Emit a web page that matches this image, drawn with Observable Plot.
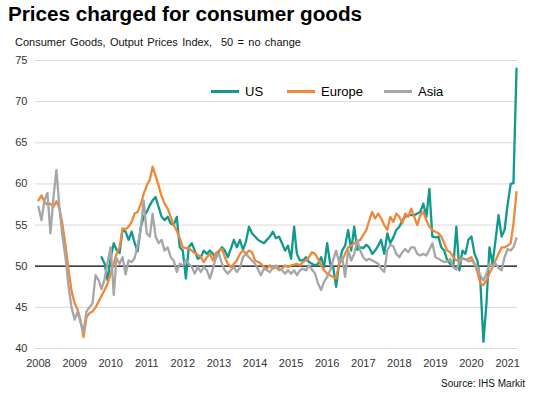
<!DOCTYPE html>
<html><head><meta charset="utf-8">
<script src="https://cdn.jsdelivr.net/npm/d3@7"></script>
<script src="https://cdn.jsdelivr.net/npm/@observablehq/plot@0.6"></script>
<style>
html,body{margin:0;padding:0;background:#fff;}
#wrap{position:relative;width:534px;height:394px;font-family:"Liberation Sans",Arial,sans-serif;color:#000;overflow:hidden;background:#fff}
#title{position:absolute;left:8px;top:2px;font-size:20.7px;font-weight:bold;white-space:nowrap}
#sub{position:absolute;left:15px;top:36px;font-size:11px;white-space:pre;color:#111;word-spacing:1.3px}
#chart{position:absolute;left:0;top:48px}
.item{position:absolute;top:83px;height:16px;display:flex;align-items:center;white-space:nowrap;font-size:13px}
.sw{display:inline-block;width:28px;height:3px;margin-right:6px}
#source{position:absolute;right:9px;top:378px;font-size:10px;color:#111}
</style></head>
<body>
<div id="wrap">
  <div id="title"></div>
  <div id="sub"></div>
  <div id="chart"></div>
  <div id="legend"></div>
  <div id="source"></div>
</div>
<script>
const titleText = "Prices charged for consumer goods";
const subtitleText = "Consumer Goods, Output Prices Index,  50 = no change";
const sourceText = "Source: IHS Markit";

const seriesNames = ["US", "Europe", "Asia"];
const seriesColors = ["#10998c", "#f0883a", "#a6a6a6"];
const legendLeft = [211, 287, 384];

const yTicks = [40, 45, 50, 55, 60, 65, 70, 75];
const xTickYears = [2008, 2009, 2010, 2011, 2012, 2013, 2014, 2015, 2016, 2017, 2018, 2019, 2020, 2021];

// Monthly values; Asia and Europe start Jan 2008, US starts Oct 2009
const asiaStart = [2008, 0];
const asia = [
  57.2, 55.6, 58.0, 58.9, 54.0, 58.4, 61.7, 57.0, 53.5, 51.0, 47.5, 45.0,
  43.5, 44.5, 43.2, 42.0, 44.5, 45.0, 45.5, 48.9, 48.3, 47.2, 48.5, 50.5,
  52.3, 46.5, 51.0, 50.3, 51.1, 49.0, 50.7, 50.5, 51.0, 52.5, 54.5, 58.0,
  54.0, 53.6, 56.4, 53.6, 52.8, 53.2, 51.9, 52.3, 51.1, 50.7, 49.3, 50.3,
  50.1, 50.7, 50.3, 49.9, 49.1, 49.9, 49.3, 49.9, 49.5, 48.5, 49.7, 51.1,
  51.5, 50.3, 49.5, 49.1, 49.5, 49.9, 49.3, 49.8, 51.1, 51.5, 51.1, 50.7,
  50.3, 49.6, 48.9, 49.7, 49.5, 49.3, 49.9, 50.1, 49.8, 49.5, 49.1, 49.5,
  49.1, 49.5, 48.9, 49.5, 49.7, 49.5, 50.1, 49.6, 49.1, 47.9, 47.1, 48.1,
  48.7, 49.5, 50.7, 51.9, 50.5, 51.1, 48.7, 51.9, 50.7, 51.5, 53.2, 51.9,
  51.1, 50.7, 50.9, 50.7, 50.5, 50.3, 49.7, 49.3, 51.9, 52.6, 52.4, 51.5,
  51.1, 51.7, 52.1, 51.7, 52.3, 52.3, 51.5, 51.3, 51.5, 51.3, 52.0, 52.8,
  51.1, 50.9, 50.7, 50.5, 50.6, 50.9, 49.9, 49.6, 50.5, 50.9, 50.9, 50.6,
  50.7, 50.3, 49.9, 48.8, 48.3, 49.1, 50.3, 49.9, 50.3, 49.8, 49.5, 51.1,
  52.1, 51.9, 52.3, 53.4
];
const europeStart = [2008, 0];
const europe = [
  58.0, 58.6, 57.8, 57.5, 57.6, 57.2, 57.9, 57.0, 55.0, 52.5, 49.5, 47.0,
  45.5, 44.7, 43.5, 41.4, 43.8, 44.3, 44.5, 45.0, 45.7, 46.4, 47.1, 47.9,
  49.1, 50.3, 51.5, 52.3, 54.6, 54.5, 54.8, 55.4, 56.4, 56.6, 57.5, 58.8,
  59.8, 60.5, 62.1, 61.0, 59.8, 58.5, 57.6, 57.0, 56.0, 55.0, 54.3, 53.4,
  52.3, 52.2, 52.2, 51.9, 51.6, 51.4, 51.1, 50.5, 51.1, 51.5, 50.7, 51.6,
  51.9, 52.1, 51.1, 50.3, 49.9, 50.3, 50.7, 51.5, 51.9, 51.5, 51.9, 51.7,
  50.7, 50.5, 50.3, 49.9, 49.7, 50.1, 49.7, 49.9, 49.5, 49.7, 50.1, 49.9,
  50.1, 50.2, 50.3, 50.1, 50.5, 50.7, 51.1, 51.7, 51.5, 50.9, 50.1, 49.5,
  49.1, 48.9, 48.7, 48.5, 50.3, 50.7, 51.5, 52.3, 52.5, 52.8, 53.0, 53.2,
  53.8, 54.4, 55.5, 56.6, 55.8, 56.4, 55.8, 55.0, 54.4, 56.0, 55.4, 56.4,
  56.0, 55.2, 56.4, 56.0, 57.0, 56.0, 55.0, 56.2, 56.6, 55.6, 54.8, 54.4,
  54.2, 54.0, 53.6, 52.8, 51.9, 51.7, 51.1, 50.7, 50.8, 51.0, 50.8, 50.9,
  51.1, 50.3, 49.3, 47.9, 47.7, 48.3, 49.1, 49.9, 50.7, 51.5, 52.3, 52.3,
  52.5, 52.8, 55.2, 59.0
];
const usStart = [2009, 9];
const us = [
  51.1, 50.3, 48.3,
  51.0, 52.8, 52.0, 51.6, 54.4, 54.2, 53.2, 54.2, 52.8, 51.8, 54.7, 56.0,
  56.6, 57.4, 58.0, 58.4, 57.2, 56.0, 55.6, 56.0, 55.2, 55.0, 56.0, 52.3,
  51.9, 48.5, 52.3, 52.8, 51.9, 50.9, 51.1, 51.9, 51.5, 51.9, 51.5, 51.0,
  51.8, 52.3, 51.9, 51.1, 52.1, 53.2, 52.3, 53.2, 52.0, 53.0, 54.8, 54.0,
  53.6, 53.2, 53.0, 52.8, 53.2, 53.6, 54.2, 53.4, 53.6, 52.8, 51.9, 52.5,
  50.9, 54.8, 51.5, 50.7, 50.7, 51.1, 50.5, 50.3, 50.1, 50.3, 51.1, 49.9,
  52.8, 50.3, 50.0, 47.5, 50.3, 51.9, 52.5, 54.4, 51.9, 54.8, 52.0, 52.3,
  52.2, 52.6, 52.3, 51.5, 51.9, 52.5, 53.2, 51.5, 54.0, 52.8, 53.5, 54.4,
  54.8, 55.6, 56.0, 56.2, 56.2, 56.2, 56.4, 56.6, 57.6, 56.0, 59.4, 53.6,
  53.5, 53.6, 52.3, 51.9, 50.7, 50.3, 50.0, 54.8, 49.5, 51.9, 51.5, 53.2,
  53.6, 51.5, 50.7, 47.9, 40.8, 45.5, 52.3, 50.3, 53.2, 56.2, 53.6, 54.4,
  57.5, 60.0, 60.1, 74.0
];

function toRows(values, start, name) {
  return values.map((v, i) => ({
    date: new Date(Date.UTC(start[0], start[1] + i, 1)),
    value: v,
    series: name
  }));
}
const rows = [
  toRows(us, usStart, "US"),
  toRows(europe, europeStart, "Europe"),
  toRows(asia, asiaStart, "Asia")
];

document.getElementById("title").textContent = titleText;
document.getElementById("sub").textContent = subtitleText;
document.getElementById("source").textContent = sourceText;

const legend = document.getElementById("legend");
seriesNames.forEach((n, i) => {
  const it = document.createElement("div");
  it.className = "item";
  it.style.left = legendLeft[i] + "px";
  const sw = document.createElement("span");
  sw.className = "sw";
  sw.style.background = seriesColors[i];
  it.appendChild(sw);
  it.appendChild(document.createTextNode(n));
  legend.appendChild(it);
});

const chart = Plot.plot({
  width: 534,
  height: 330,
  marginLeft: 35,
  marginRight: 17,
  marginTop: 12,
  marginBottom: 30,
  style: {fontFamily: "'Liberation Sans', Arial, sans-serif", fontSize: "11px", color: "#333", background: "#fff", overflow: "visible"},
  x: {
    type: "utc",
    domain: [new Date(Date.UTC(2007, 11, 2)), new Date(Date.UTC(2021, 3, 11))],
    ticks: xTickYears.map(y => new Date(Date.UTC(y, 0, 1))),
    tickFormat: d => String(d.getUTCFullYear()),
    tickSize: 0,
    tickPadding: 11,
    label: null
  },
  y: {
    domain: [40, 75],
    ticks: yTicks,
    tickSize: 0,
    tickPadding: 8,
    label: null
  },
  marks: [
    Plot.ruleY(yTicks.filter(t => t !== 50), {stroke: "#d9d9d9", strokeWidth: 1}),
    Plot.ruleY([50], {stroke: "#000", strokeWidth: 1.3}),
    ...rows.map((r, i) => Plot.line(r, {x: "date", y: "value", stroke: seriesColors[i], strokeWidth: 2.3, strokeLinejoin: "round"}))
  ]
});
document.getElementById("chart").appendChild(chart);
</script>
</body></html>
